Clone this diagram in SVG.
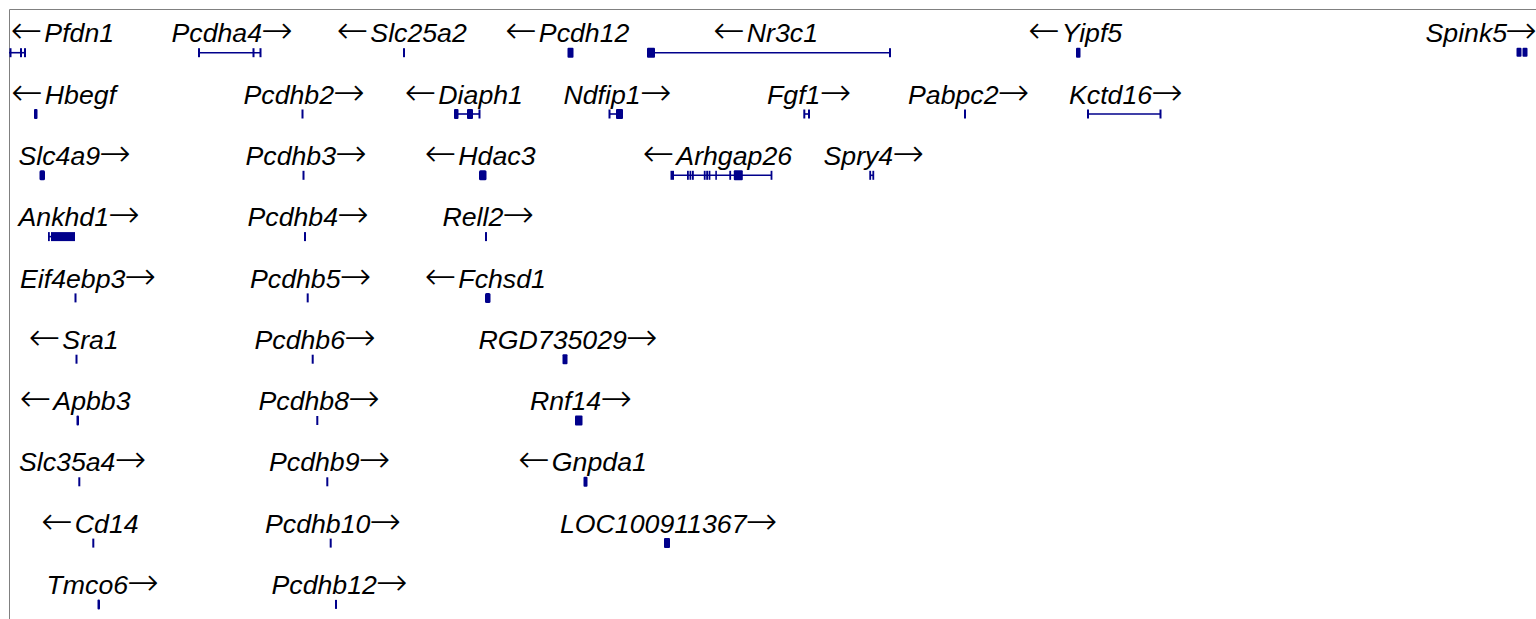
<svg xmlns="http://www.w3.org/2000/svg" width="1536" height="619" viewBox="0 0 1536 619">
<style>
.lbl{font-family:"Liberation Sans",Arial,sans-serif;font-style:italic;font-size:26.7px;fill:#000}
.ar{font-family:"DejaVu Sans",sans-serif;font-size:38px;font-style:normal;font-weight:200}
.ex{fill:#00008B}
.ln{stroke:#00008B;stroke-width:1.6;fill:none}
.frame{stroke:#808080;stroke-width:1;fill:none}
</style>
<rect x="0" y="0" width="1536" height="619" fill="#fff"/>
<path class="frame" d="M9.5,619 V9.5 H1536"/>
<g id="connectors"></g>
<!-- Row 0 -->
<g id="Pfdn1"><text class="lbl" x="10.5" y="42.3"><tspan class="ar" dy="1">←</tspan><tspan dy="-1" dx="2">Pfdn1</tspan></text><path class="ln" d="M9,52.7H25.5"/><rect class="ex" x="9.5" y="48.2" width="2" height="9"/><rect class="ex" x="20" y="48.2" width="2" height="9"/><rect class="ex" x="24" y="48.2" width="2" height="9"/></g>
<g id="Pcdha4"><text class="lbl" x="171.5" y="42.3">Pcdha4<tspan class="ar" dx="-1" dy="1">→</tspan></text><path class="ln" d="M199,52.7H261"/><rect class="ex" x="198" y="48.2" width="2" height="9"/><rect class="ex" x="252.5" y="48.2" width="2" height="9"/><rect class="ex" x="259.5" y="48.2" width="2" height="9"/></g>
<g id="Slc25a2"><text class="lbl" x="336.5" y="42.3"><tspan class="ar" dy="1">←</tspan><tspan dy="-1" dx="2">Slc25a2</tspan></text><rect class="ex" x="403" y="48.2" width="2" height="9"/></g>
<g id="Pcdh12"><text class="lbl" x="505" y="42.3"><tspan class="ar" dy="1">←</tspan><tspan dy="-1" dx="2">Pcdh12</tspan></text><rect class="ex" x="567.5" y="47.7" width="6" height="10" rx="1"/></g>
<g id="Nr3c1"><text class="lbl" x="713" y="42.3"><tspan class="ar" dy="1">←</tspan><tspan dy="-1" dx="2">Nr3c1</tspan></text><path class="ln" d="M655,52.7H890"/><rect class="ex" x="647" y="47.7" width="8" height="10" rx="1"/><rect class="ex" x="889" y="48.2" width="2" height="9"/></g>
<g id="Yipf5"><text class="lbl" x="1028" y="42.3"><tspan class="ar" dy="1">←</tspan><tspan dy="-1" dx="2">Yipf5</tspan></text><rect class="ex" x="1076" y="47.7" width="4.5" height="10" rx="1"/></g>
<g id="Spink5"><text class="lbl" x="1425.5" y="42.3">Spink5<tspan class="ar" dx="-2" dy="1">→</tspan></text><rect class="ex" x="1516.5" y="47.7" width="5" height="9" rx="1"/><rect class="ex" x="1522.5" y="47.7" width="5" height="9" rx="1"/></g>
<!-- Row 1 -->
<g id="Hbegf"><text class="lbl" x="11" y="103.6"><tspan class="ar" dy="1">←</tspan><tspan dy="-1" dx="2">Hbegf</tspan></text><rect class="ex" x="34" y="109" width="3.5" height="10" rx="1"/></g>
<g id="Pcdhb2"><text class="lbl" x="243.5" y="103.6">Pcdhb2<tspan class="ar" dx="-1" dy="1">→</tspan></text><rect class="ex" x="301.5" y="109.5" width="2" height="9"/></g>
<g id="Diaph1"><text class="lbl" x="404.5" y="103.6"><tspan class="ar" dy="1">←</tspan><tspan dy="-1" dx="2">Diaph1</tspan></text><path class="ln" d="M455,114H480"/><rect class="ex" x="454" y="109" width="4.5" height="10" rx="1"/><rect class="ex" x="467" y="109" width="6" height="10" rx="1"/><rect class="ex" x="478.5" y="109.5" width="2" height="9"/></g>
<g id="Ndfip1"><text class="lbl" x="563.5" y="103.6">Ndfip1<tspan class="ar" dx="-1" dy="1">→</tspan></text><path class="ln" d="M609,114H617"/><rect class="ex" x="608.5" y="109.5" width="2" height="9"/><rect class="ex" x="616" y="109" width="7" height="10" rx="1"/></g>
<g id="Fgf1"><text class="lbl" x="767" y="103.6">Fgf1<tspan class="ar" dx="-1" dy="1">→</tspan></text><path class="ln" d="M804,114H809"/><rect class="ex" x="803.3" y="109.5" width="2" height="9"/><rect class="ex" x="808" y="109.5" width="2" height="9"/></g>
<g id="Pabpc2"><text class="lbl" x="908" y="103.6">Pabpc2<tspan class="ar" dx="-1" dy="1">→</tspan></text><rect class="ex" x="964" y="109.5" width="2" height="9"/></g>
<g id="Kctd16"><text class="lbl" x="1069" y="103.6">Kctd16<tspan class="ar" dx="-1" dy="1">→</tspan></text><path class="ln" d="M1088,114H1161"/><rect class="ex" x="1087" y="109.5" width="2" height="9"/><rect class="ex" x="1159.5" y="109.5" width="2" height="9"/></g>
<!-- Row 2 -->
<g id="Slc4a9"><text class="lbl" x="18.5" y="164.9">Slc4a9<tspan class="ar" dx="-1" dy="1">→</tspan></text><rect class="ex" x="39.5" y="170.3" width="5.5" height="10" rx="1.5"/></g>
<g id="Pcdhb3"><text class="lbl" x="245.5" y="164.9">Pcdhb3<tspan class="ar" dx="-1" dy="1">→</tspan></text><rect class="ex" x="302.5" y="170.8" width="2" height="9"/></g>
<g id="Hdac3"><text class="lbl" x="424.5" y="164.9"><tspan class="ar" dy="1">←</tspan><tspan dy="-1" dx="2">Hdac3</tspan></text><rect class="ex" x="479" y="170.3" width="7.5" height="10" rx="1.5"/></g>
<g id="Arhgap26"><text class="lbl" x="642.5" y="164.9"><tspan class="ar" dy="1">←</tspan><tspan dy="-1" dx="2">Arhgap26</tspan></text><path class="ln" d="M671,175.3H771.5"/><rect class="ex" x="670.5" y="170.8" width="3.5" height="9"/><rect class="ex" x="687" y="170.8" width="1.8" height="9"/><rect class="ex" x="689.5" y="170.8" width="1.8" height="9"/><rect class="ex" x="692" y="170.8" width="1.8" height="9"/><rect class="ex" x="703.8" y="170.8" width="1.8" height="9"/><rect class="ex" x="706.2" y="170.8" width="1.8" height="9"/><rect class="ex" x="708.6" y="170.8" width="1.8" height="9"/><rect class="ex" x="715.3" y="170.8" width="1.6" height="9"/><rect class="ex" x="729.3" y="170.8" width="1.8" height="9"/><rect class="ex" x="733.8" y="170.3" width="9" height="10" rx="1"/><rect class="ex" x="770.6" y="170.8" width="1.8" height="9"/></g>
<g id="Spry4"><text class="lbl" x="823.5" y="164.9">Spry4<tspan class="ar" dx="-1" dy="1">→</tspan></text><path class="ln" d="M870,175.3H873"/><rect class="ex" x="869.3" y="170.8" width="1.8" height="9"/><rect class="ex" x="872.4" y="170.8" width="1.8" height="9"/></g>
<!-- Row 3 -->
<g id="Ankhd1"><text class="lbl" x="18.5" y="226.2">Ankhd1<tspan class="ar" dx="-1" dy="1">→</tspan></text><path class="ln" d="M48,236.6H52"/><rect class="ex" x="48" y="232.1" width="1.8" height="9"/><rect class="ex" x="51" y="232.1" width="24" height="9"/></g>
<g id="Pcdhb4"><text class="lbl" x="247.5" y="226.2">Pcdhb4<tspan class="ar" dx="-1" dy="1">→</tspan></text><rect class="ex" x="304" y="232.1" width="2" height="9"/></g>
<g id="Rell2"><text class="lbl" x="442.5" y="226.2">Rell2<tspan class="ar" dx="-1" dy="1">→</tspan></text><rect class="ex" x="485" y="232.1" width="2" height="9"/></g>
<!-- Row 4 -->
<g id="Eif4ebp3"><text class="lbl" x="20" y="287.5">Eif4ebp3<tspan class="ar" dx="-1" dy="1">→</tspan></text><rect class="ex" x="74.5" y="293.4" width="2" height="9"/></g>
<g id="Pcdhb5"><text class="lbl" x="250" y="287.5">Pcdhb5<tspan class="ar" dx="-1" dy="1">→</tspan></text><rect class="ex" x="306.7" y="293.4" width="2" height="9"/></g>
<g id="Fchsd1"><text class="lbl" x="424.5" y="287.5"><tspan class="ar" dy="1">←</tspan><tspan dy="-1" dx="2">Fchsd1</tspan></text><rect class="ex" x="485" y="292.9" width="5.5" height="10" rx="1.5"/></g>
<!-- Row 5 -->
<g id="Sra1"><text class="lbl" x="28.5" y="348.8"><tspan class="ar" dy="1">←</tspan><tspan dy="-1" dx="2">Sra1</tspan></text><rect class="ex" x="75.5" y="354.7" width="2" height="9"/></g>
<g id="Pcdhb6"><text class="lbl" x="254.5" y="348.8">Pcdhb6<tspan class="ar" dx="-1" dy="1">→</tspan></text><rect class="ex" x="311.7" y="354.7" width="2" height="9"/></g>
<g id="RGD735029"><text class="lbl" x="478.5" y="348.8">RGD735029<tspan class="ar" dx="-1" dy="1">→</tspan></text><rect class="ex" x="562.5" y="354.2" width="5" height="10" rx="1"/></g>
<!-- Row 6 -->
<g id="Apbb3"><text class="lbl" x="19.5" y="410.1"><tspan class="ar" dy="1">←</tspan><tspan dy="-1" dx="2">Apbb3</tspan></text><rect class="ex" x="76.5" y="415.5" width="2.5" height="10" rx="1"/></g>
<g id="Pcdhb8"><text class="lbl" x="258.5" y="410.1">Pcdhb8<tspan class="ar" dx="-1" dy="1">→</tspan></text><rect class="ex" x="316.3" y="416" width="2" height="9"/></g>
<g id="Rnf14"><text class="lbl" x="530" y="410.1">Rnf14<tspan class="ar" dx="-1" dy="1">→</tspan></text><rect class="ex" x="575" y="415.5" width="7.5" height="10" rx="1"/></g>
<!-- Row 7 -->
<g id="Slc35a4"><text class="lbl" x="19" y="471.4">Slc35a4<tspan class="ar" dx="-1" dy="1">→</tspan></text><rect class="ex" x="78.3" y="477.3" width="2" height="9"/></g>
<g id="Pcdhb9"><text class="lbl" x="269" y="471.4">Pcdhb9<tspan class="ar" dx="-1" dy="1">→</tspan></text><rect class="ex" x="326.3" y="477.3" width="2" height="9"/></g>
<g id="Gnpda1"><text class="lbl" x="518" y="471.4"><tspan class="ar" dy="1">←</tspan><tspan dy="-1" dx="2">Gnpda1</tspan></text><rect class="ex" x="583.5" y="476.8" width="4" height="10" rx="1"/></g>
<!-- Row 8 -->
<g id="Cd14"><text class="lbl" x="41" y="532.7"><tspan class="ar" dy="1">←</tspan><tspan dy="-1" dx="2">Cd14</tspan></text><rect class="ex" x="92.3" y="538.6" width="2" height="9"/></g>
<g id="Pcdhb10"><text class="lbl" x="265" y="532.7">Pcdhb10<tspan class="ar" dx="-1" dy="1">→</tspan></text><rect class="ex" x="329.7" y="538.6" width="2" height="9"/></g>
<g id="LOC100911367"><text class="lbl" x="560" y="532.7">LOC100911367<tspan class="ar" dx="-1" dy="1">→</tspan></text><rect class="ex" x="664" y="538.1" width="6" height="10" rx="1"/></g>
<!-- Row 9 -->
<g id="Tmco6"><text class="lbl" x="46.5" y="594">Tmco6<tspan class="ar" dx="-1" dy="1">→</tspan></text><rect class="ex" x="97.5" y="599.4" width="2.5" height="10" rx="1"/></g>
<g id="Pcdhb12"><text class="lbl" x="271.5" y="594">Pcdhb12<tspan class="ar" dx="-1" dy="1">→</tspan></text><rect class="ex" x="335" y="599.9" width="2" height="9"/></g>
</svg>
